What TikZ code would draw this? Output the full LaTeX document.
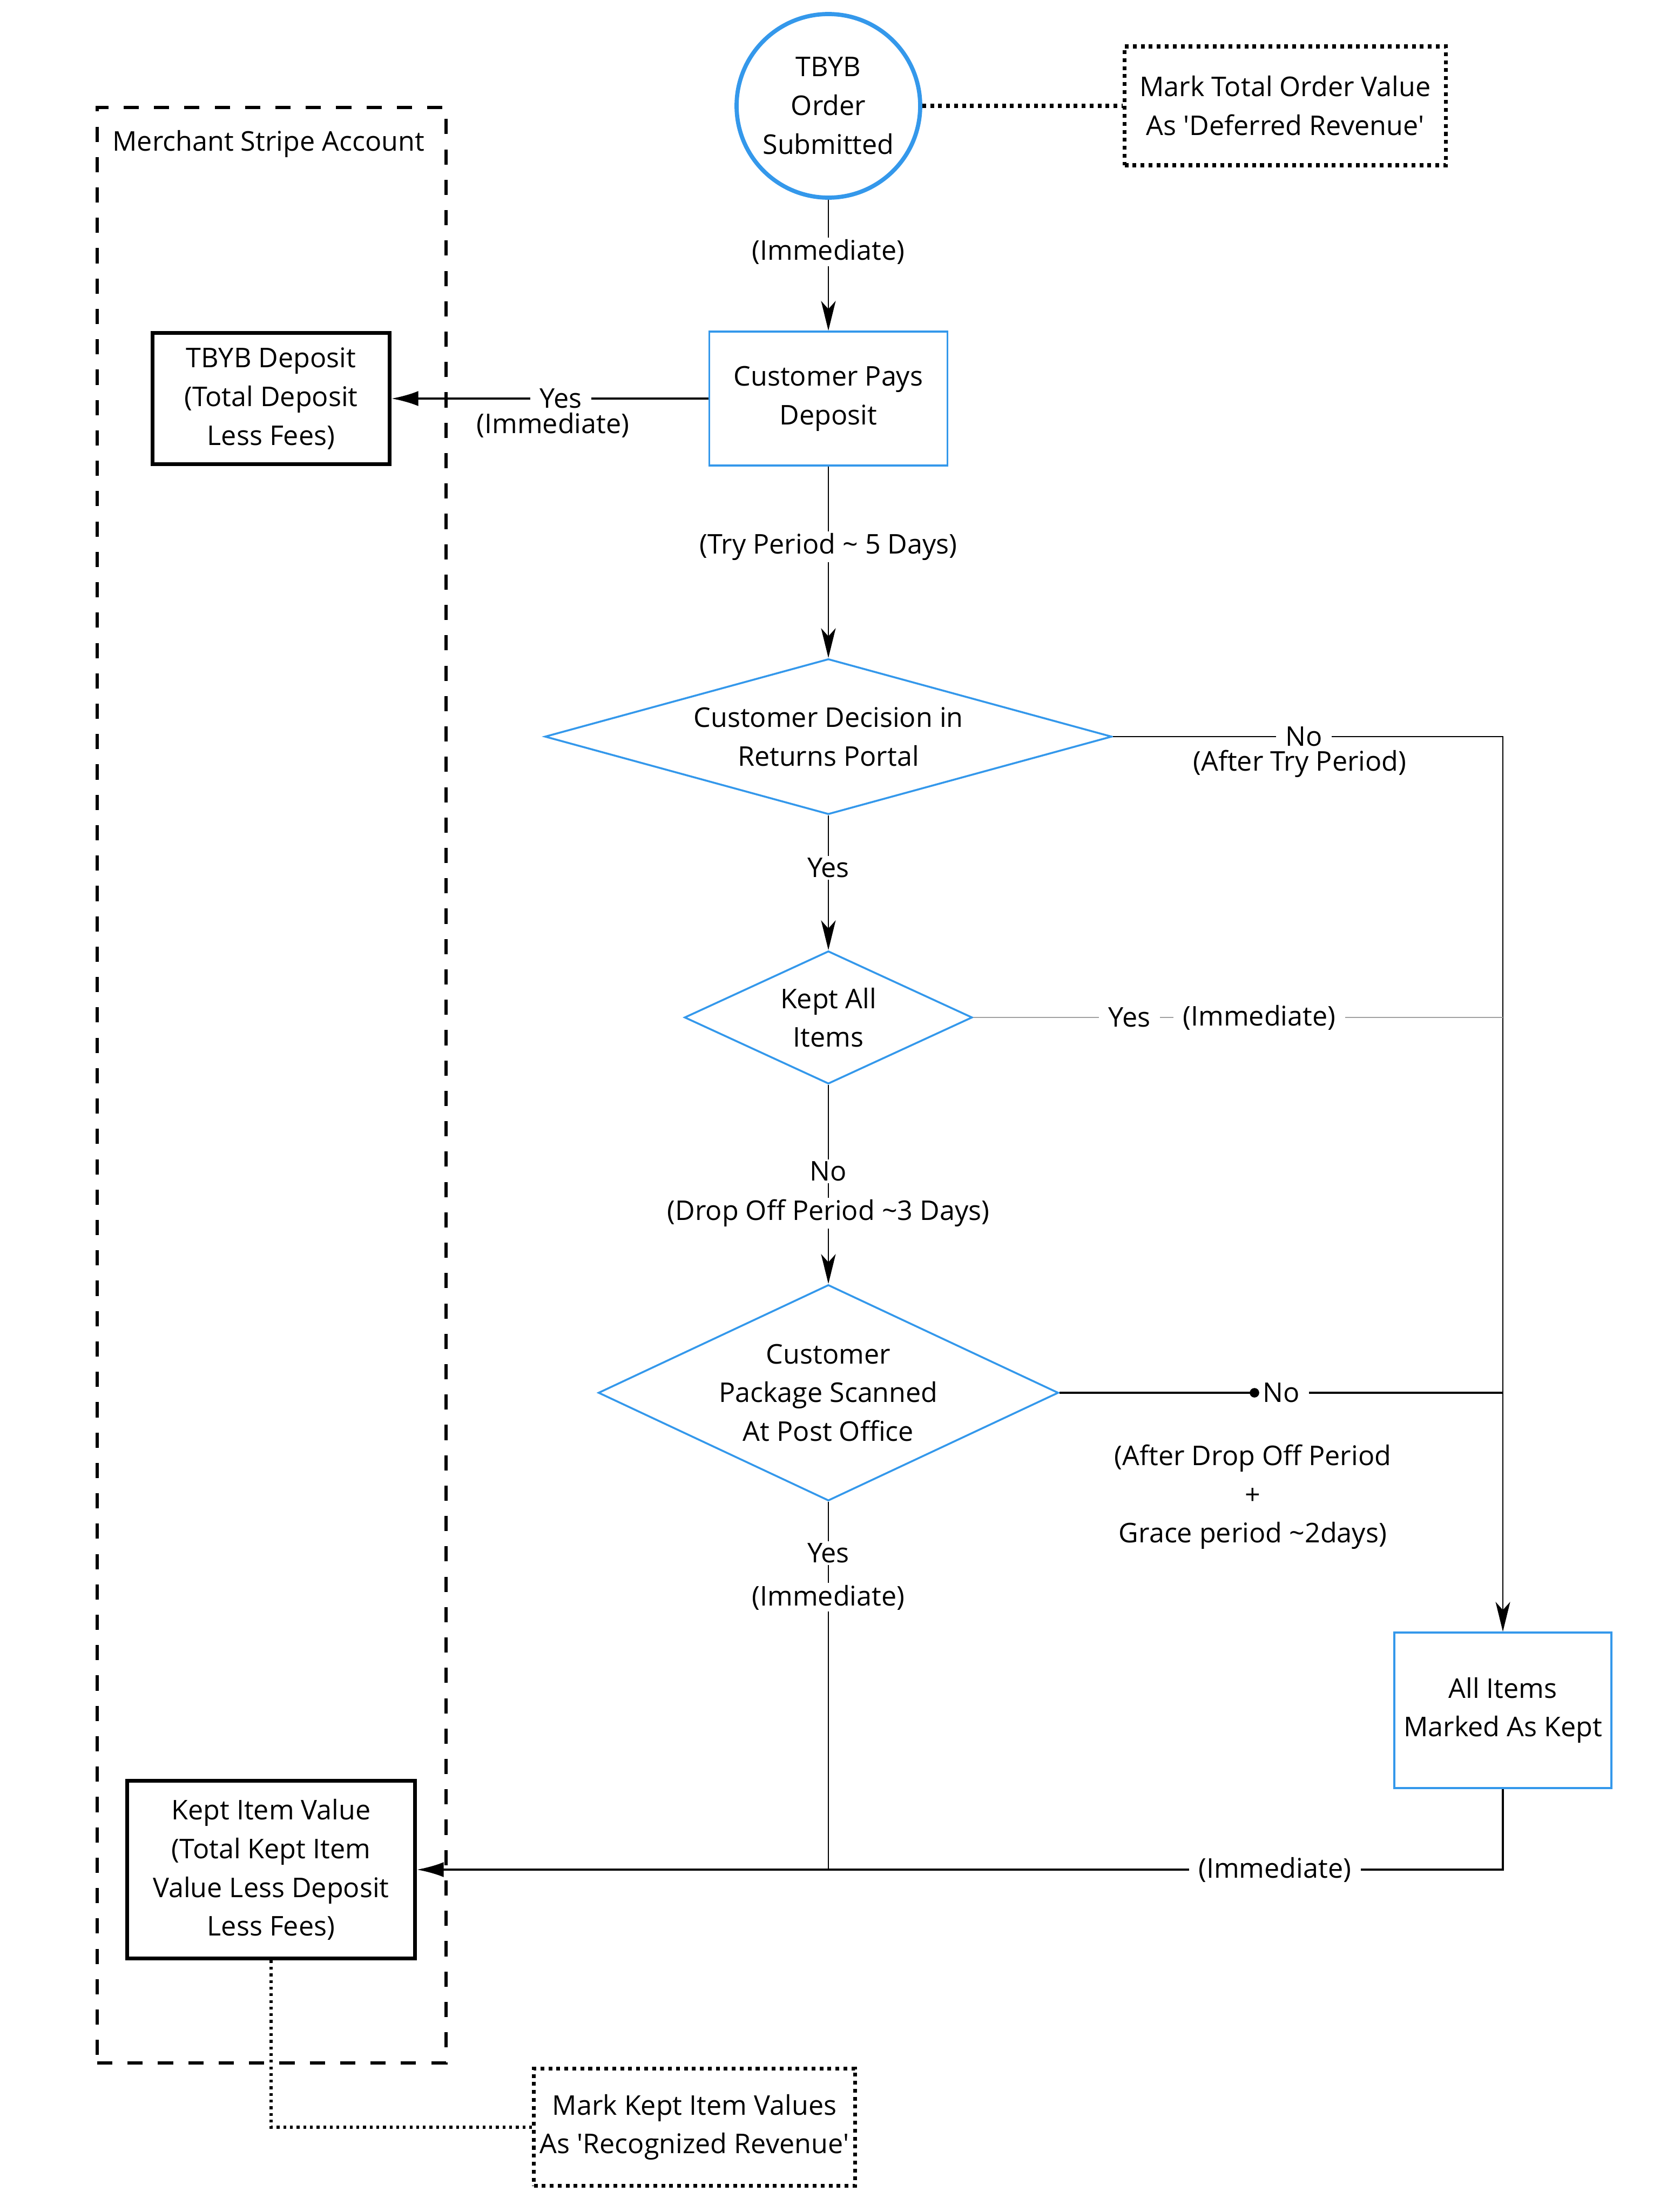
\documentclass[tikz,border=0pt]{standalone}
\usepackage{fontspec}
\setmainfont{Open Sans}
\definecolor{flowblue}{RGB}{52,152,235}
\definecolor{railgray}{RGB}{160,160,160}
\usetikzlibrary{arrows.meta,positioning,shapes.geometric,calc}

\begin{document}
\begin{tikzpicture}[
    font=\fontsize{14.3}{20.4}\selectfont,
    bluebox/.style={rectangle, draw=flowblue, line width=1pt, align=center, inner sep=4pt},
    acctbox/.style={rectangle, draw=black, line width=1.8pt, align=center},
    notebox/.style={rectangle, draw=black, line width=2pt, dash pattern=on 2pt off 2.2pt,
                    align=center, inner sep=2pt},
    decision/.style={diamond, draw=flowblue, line width=1pt, align=center, inner sep=0pt},
    lbl/.style={fill=white, inner xsep=5pt, inner ysep=1pt},
    flow/.style={-{Stealth[length=5.5mm,width=2.7mm,inset=1.5mm]}, line width=0.8pt},
    payflow/.style={-{Latex[length=5mm,width=2.8mm]}, line width=1.2pt},
    noteline/.style={line width=2pt, dash pattern=on 2pt off 2.2pt},
    graylink/.style={draw=railgray, line width=0.8pt}
  ]
    \useasboundingbox (0,0) rectangle (30.73,-40.96);

    % stripe account frame
    \node[draw, line width=1.6pt, dash pattern=on 8pt off 8pt, minimum width=6.46cm,
          minimum height=36.21cm] (stripe) at (5.03,-20.095) {};
    \node[anchor=west] (stripelbl) at (1.96,-2.66) {Merchant Stripe Account};

    \node[circle, draw=flowblue, line width=2.2pt, minimum size=3.4cm, inner sep=0pt,
          align=center] (order) at (15.34,-1.96) {TBYB\\Order\\Submitted};
    \node[notebox, minimum width=5.95cm, minimum height=2.20cm] (deferred) at (23.80,-1.96)
      {Mark Total Order Value\\As \textquotesingle Deferred Revenue\textquotesingle};

    \node[acctbox, minimum width=4.39cm, minimum height=2.43cm] (deposit) at (5.02,-7.38)
      {TBYB Deposit\\(Total Deposit\\Less Fees)};
    \node[bluebox, minimum width=4.41cm, minimum height=2.48cm] (pays) at (15.34,-7.38)
      {Customer Pays\\Deposit};
    \node[decision, minimum width=10.50cm, minimum height=2.88cm, aspect=3.65] (portal)
      at (15.34,-13.64) {Customer Decision in\\Returns Portal};
    \node[decision, minimum width=5.33cm, minimum height=2.46cm, aspect=2.17] (keptall)
      at (15.34,-18.84) {Kept All\\Items};
    \node[decision, minimum width=8.52cm, minimum height=4.00cm, aspect=2.13] (scanned)
      at (15.34,-25.79) {Customer\\Package Scanned\\At Post Office};
    \node[bluebox, minimum width=4.02cm, minimum height=2.88cm] (markkept) at (27.83,-31.67)
      {All Items\\Marked As Kept};
    \node[acctbox, minimum width=5.33cm, minimum height=3.29cm] (keptvalue) at (5.02,-34.62)
      {Kept Item Value\\(Total Kept Item\\Value Less Deposit\\Less Fees)};
    \node[notebox, minimum width=5.95cm, minimum height=2.17cm] (recognized) at (12.86,-39.39)
      {Mark Kept Item Values\\As \textquotesingle Recognized Revenue\textquotesingle};

    % connectors
    \draw[noteline] (order.east) -- (deferred.west);
    \draw[flow] (order) -- node[lbl, pos=0.40] (imm1) {(Immediate)} (pays);
    \draw[payflow] (pays) -- node[lbl, pos=0.465] (yes1) {Yes} (deposit);
    \node (imm2) at (10.24,-7.87) {(Immediate)};
    \draw[flow] (pays) -- node[lbl, pos=0.42] (try) {(Try Period \textasciitilde{} 5 Days)} (portal);
    \draw[flow] (portal.east) -| node[lbl, pos=0.245] (no1) {No} (markkept.north);
    \node (aftertry) at (24.07,-14.14) {(After Try Period)};
    \draw[flow] (portal) -- node[lbl, pos=0.39] (yes2) {Yes} (keptall);
    \draw[graylink] (keptall.east) -- node[lbl, pos=0.295] (yes3) {Yes}
      node[lbl, pos=0.54] (imm3) {(Immediate)} (keptall.east -| markkept.north);
    \draw[flow] (keptall) -- node[lbl, pos=0.435] (no2) {No}
      node[lbl, pos=0.645] (dropoff) {(Drop Off Period \textasciitilde3 Days)} (scanned);
    \draw[line width=1.2pt] (scanned.east) -- node[lbl, pos=0.5] (no3) {No}
      (scanned.east -| markkept.north);
    \node[circle, fill, inner sep=0pt, minimum size=5pt] (nodot) at (23.23,-25.79) {};
    \node[align=center] (aftergrace) at (23.20,-27.72)
      {(After Drop Off Period\\+\\Grace period \textasciitilde2days)};
    \draw[line width=0.8pt] (scanned) -- node[lbl, pos=0.14] (yes4) {Yes}
      node[lbl, pos=0.26] (imm4) {(Immediate)} (scanned.south |- keptvalue.east);
    \draw[payflow] (markkept.south) |- node[lbl, pos=0.605] (imm5) {(Immediate)} (keptvalue.east);
    \draw[line width=1.5pt, dash pattern=on 1.5pt off 2pt] (keptvalue.south) |- (recognized.west);
\end{tikzpicture}
\end{document}
